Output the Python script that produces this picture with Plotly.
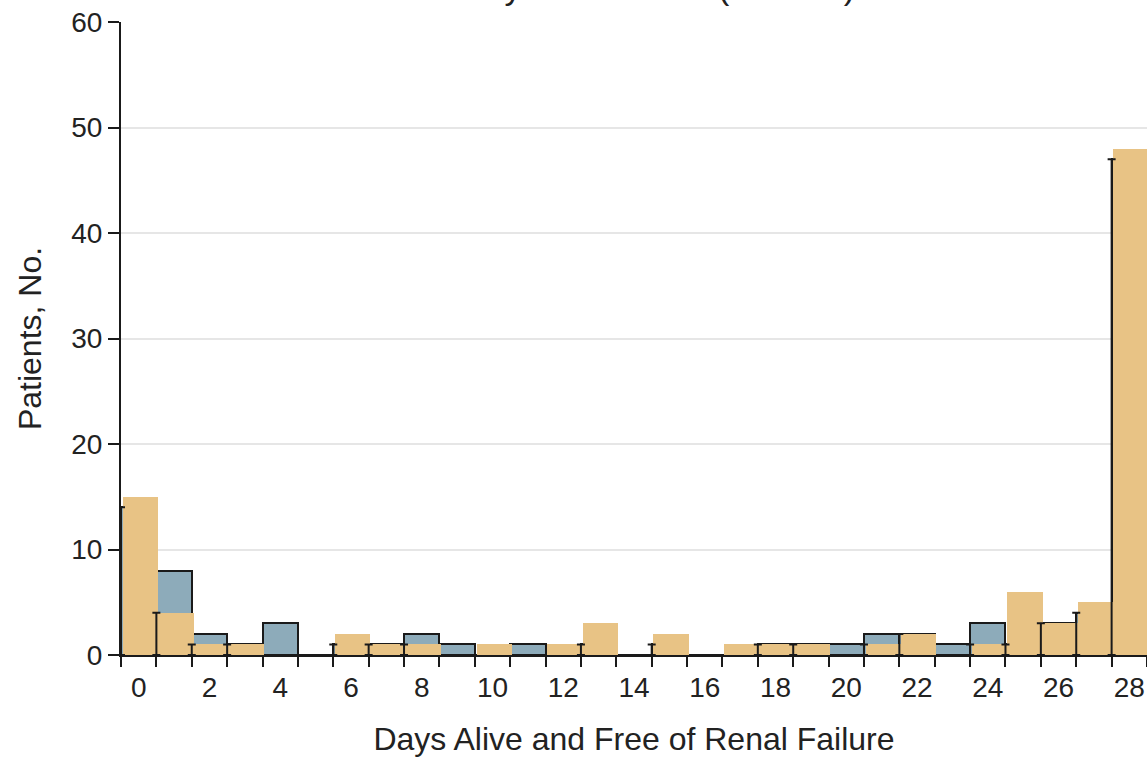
import plotly.graph_objects as go

# Data
days = list(range(0, 29))
group_blue = [14, 8, 2, 1, 3, 0, 1, 1, 2, 1, 0, 1, 0, 1, 0, 1, 0, 0, 1, 1, 1, 2, 2, 1, 3, 1, 3, 4, 47]
group_tan = [15, 4, 1, 1, 0, 0, 2, 1, 1, 0, 1, 0, 1, 3, 0, 2, 0, 1, 1, 1, 0, 1, 2, 0, 1, 6, 3, 5, 48]
x_tick_labels = [str(v) for v in range(0, 29, 2)]
y_ticks = [0, 10, 20, 30, 40, 50, 60]

FONT = "Liberation Sans, Arial, sans-serif"
BLUE = "#8DABBA"
TAN = "#E8C385"
INK = "#1a1a1a"

fig = go.Figure()

fig.add_trace(go.Bar(
    x=days, y=group_blue, width=1.0,
    marker=dict(color=BLUE, line=dict(color=INK, width=2)),
    showlegend=False, hoverinfo="skip",
))
fig.add_trace(go.Bar(
    x=[d + 0.05 for d in days], y=group_tan, width=1.0,
    marker=dict(color=TAN, line=dict(width=0)),
    showlegend=False, hoverinfo="skip",
))

# left-edge outline marks of the hidden bars
mx, my, me = [], [], []
for d, b, t in zip(days, group_blue, group_tan):
    h = min(b, t)
    if h > 0:
        mx.append(d - 0.5)
        my.append(h / 2)
        me.append(h / 2)
fig.add_trace(go.Scatter(
    x=mx, y=my, mode="markers", marker=dict(size=0.1, color="rgba(0,0,0,0)"),
    error_y=dict(type="data", array=me, symmetric=True, color=INK, thickness=2, width=4),
    showlegend=False, hoverinfo="skip",
))

fig.update_layout(
    width=1147, height=760,
    margin=dict(l=121, r=0, t=22, b=105),
    paper_bgcolor="white", plot_bgcolor="white",
    barmode="overlay", bargap=0,
    font=dict(family=FONT, size=28, color="#222222"),
    xaxis=dict(
        range=[-0.5, 28.5], automargin=False,
        tickvals=list(range(0, 29, 2)), ticktext=x_tick_labels,
        ticks="", showgrid=False, zeroline=False,
        showline=True, linecolor=INK, linewidth=2,
        layer="below traces", ticklabelstandoff=6,
        minor=dict(tickvals=[d - 0.5 for d in days] + [28.5], ticks="outside",
                   ticklen=10, tickwidth=2, tickcolor=INK, showgrid=False),
        tickfont=dict(size=28),
        title=dict(text="Days Alive and Free of Renal Failure", font=dict(size=32), standoff=26),
    ),
    yaxis=dict(
        range=[0, 60], tickvals=y_ticks, automargin=False,
        ticks="outside", ticklen=11, tickwidth=2, tickcolor=INK,
        showline=True, linecolor=INK, linewidth=2,
        showgrid=True, gridcolor="#e6e6e6", gridwidth=2, zeroline=False,
        tickfont=dict(size=28),
        title=dict(text="Patients, No.", font=dict(size=32), standoff=20),
    ),
)

fig.add_annotation(
    text="Hydrocortisone (n = 203)", xref="paper", yref="paper",
    x=0.533, y=1.0225, xanchor="center", yanchor="bottom",
    showarrow=False, font=dict(size=34, color="#222222"),
)

fig.write_html(
    "out.html",
    config={"displayModeBar": False},
    post_script="document.body.style.margin='0';document.body.style.overflow='hidden';",
)
